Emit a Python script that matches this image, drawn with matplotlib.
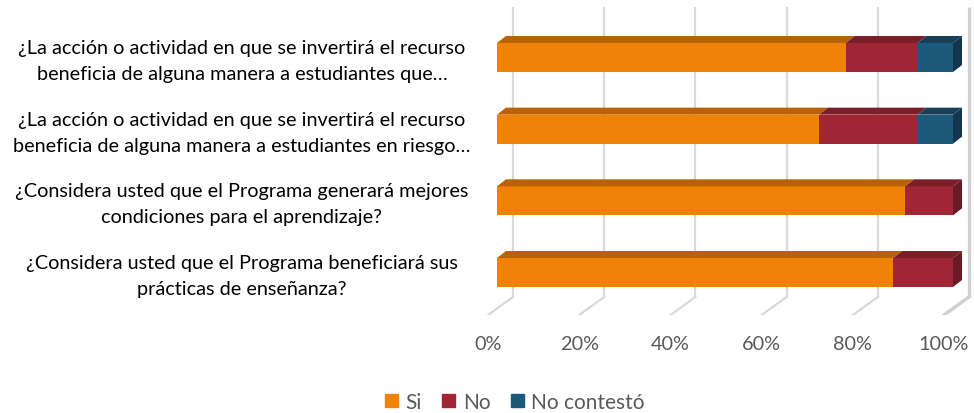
import matplotlib
matplotlib.use('Agg')
import matplotlib.pyplot as plt
from matplotlib.patches import Polygon, Rectangle
import numpy as np

categories = [
    "¿La acción o actividad en que se invertirá el recurso\nbeneficia de alguna manera a estudiantes que…",
    "¿La acción o actividad en que se invertirá el recurso\nbeneficia de alguna manera a estudiantes en riesgo…",
    "¿Considera usted que el Programa generará mejores\ncondiciones para el aprendizaje?",
    "¿Considera usted que el Programa beneficiará sus\nprácticas de enseñanza?",
]
series_names = ["Si", "No", "No contestó"]
si = [76.5, 70.6, 89.5, 86.9]
no = [15.7, 21.6, 10.5, 13.1]
nc = [7.8, 7.8, 0.0, 0.0]
xticks = [0, 20, 40, 60, 80, 100]
xtick_labels = ["0%", "20%", "40%", "60%", "80%", "100%"]

front_cols = ["#F0820A", "#A02535", "#1C5A7C"]
top_cols = ["#B86205", "#7A1E28", "#183E58"]
side_cols = ["#9E5406", "#6A1A22", "#123650"]

W, H = 974, 414
fig = plt.figure(figsize=(W / 100, H / 100), dpi=100)
# axes: x 480..975 px, y (from top) 8..316 px
ax_left, ax_right = 480, 975
ax_top, ax_bot = 8, 316
ax = fig.add_axes([ax_left / W, (H - ax_bot) / H, (ax_right - ax_left) / W, (ax_bot - ax_top) / H])
ppx = 456 / 100.0          # pixels per percent
x0px = 497                 # pixel of 0%
ppy = 71.67                # pixels per category
c0px = 58.5                # pixel (from top) of category 0 centre
ax.set_xlim((ax_left - x0px) / ppx, (ax_right - x0px) / ppx)
ax.set_ylim((ax_bot - c0px) / ppy, (ax_top - c0px) / ppy)
ax.axis('off')

def dxd(px):
    return px / ppx

def dyd(px):  # px upward -> data
    return -px / ppy

def ypx(p):  # pixel from top -> data
    return (p - c0px) / ppy

# back wall gridlines + floor diagonals
wall_dx = 16
wall_bottom = 298
floor_front = 316
floor_dx = -9
for t, tl in zip(xticks, xtick_labels):
    lw = 2.4 if t == 100 else 1.6
    col = "#D0D0D0" if t == 100 else "#D9D9D9"
    ax.plot([t + dxd(wall_dx), t + dxd(wall_dx)], [ypx(ax_top), ypx(wall_bottom)],
            color=col, lw=lw, zorder=1, solid_capstyle='butt')
    ax.plot([t + dxd(wall_dx), t + dxd(floor_dx)], [ypx(wall_bottom), ypx(floor_front)],
            color=col, lw=lw, zorder=1)
    ax.text(t + dxd(floor_dx), ypx(345), tl, ha='center', va='center',
            fontsize=14.3, color="#595959", family="Lato")

# bars
h = 0.405
bdx, bdy = dxd(9), dyd(7)
series = [si, no, nc]
y = np.arange(len(categories))
lefts = np.zeros(len(categories))
for k, vals in enumerate(series):
    vals = np.array(vals)
    ax.barh(y, vals, left=lefts, height=h, color=front_cols[k], zorder=3,
            label=series_names[k], edgecolor='none')
    for i in range(len(categories)):
        if vals[i] <= 0:
            continue
        l, r = lefts[i], lefts[i] + vals[i]
        top = y[i] - h / 2
        bot = y[i] + h / 2
        ax.add_patch(Polygon([(l, top), (r, top), (r + bdx, top + bdy), (l + bdx, top + bdy)],
                             closed=True, facecolor=top_cols[k], edgecolor='none', zorder=3))
        # side face if last visible segment
        later = sum(series[j][i] for j in range(k + 1, len(series)))
        if later <= 0:
            ax.add_patch(Polygon([(r, top), (r, bot), (r + bdx, bot + bdy), (r + bdx, top + bdy)],
                                 closed=True, facecolor=side_cols[k], edgecolor='none', zorder=3))
    lefts = lefts + vals

# category labels
for i, lab in enumerate(categories):
    ax.text(dxd(242 - x0px), y[i] + ypx(61.5) - ypx(58.5), lab, ha='center', va='center',
            multialignment='center', fontsize=14.3, color="#000000", family="Lato",
            linespacing=1.62)

# legend
handles = [Rectangle((0, 0), 1, 1, color=c) for c in front_cols]
fig.legend(handles, series_names, loc='center', bbox_to_anchor=(515 / W, (H - 403) / H),
           ncol=3, frameon=False, prop={'family': 'Lato', 'size': 15},
           labelcolor="#595959", handlelength=0.62, handleheight=0.62, handletextpad=0.35,
           columnspacing=1.0)

fig.savefig("out.png", dpi=100)
